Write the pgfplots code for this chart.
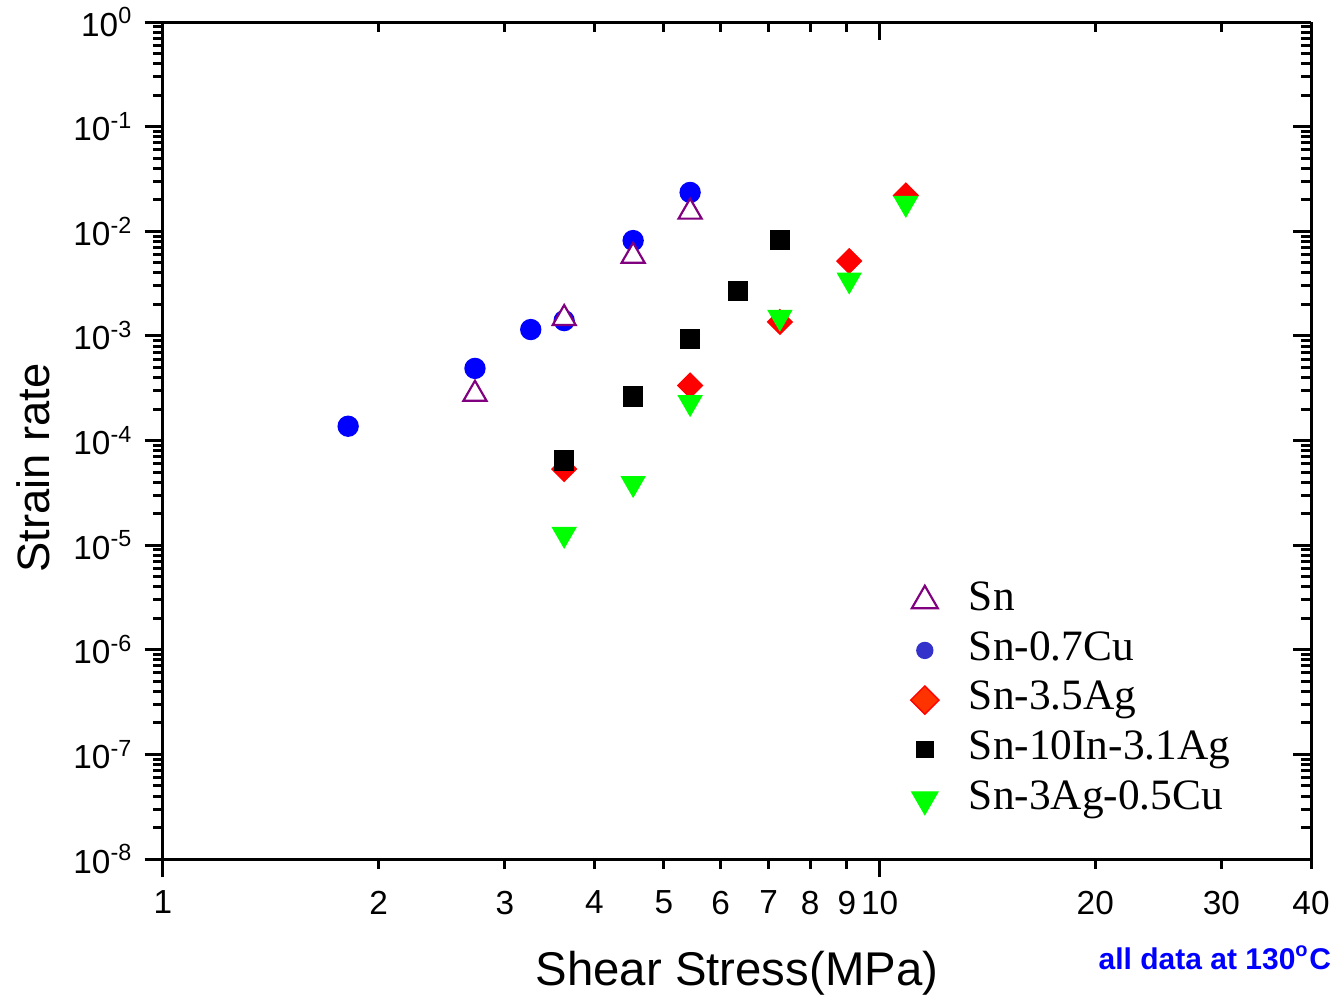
\documentclass[border=0pt]{standalone}
\usepackage{pgfplots}
\pgfplotsset{compat=1.18}
\usepackage{fontspec}
\setmainfont{Liberation Sans}
\newfontfamily\timesfont{Liberation Serif}
\definecolor{snpurple}{RGB}{128,0,128}
\definecolor{cublue}{RGB}{0,0,255}
\definecolor{legblue}{RGB}{51,51,204}
\definecolor{agred}{RGB}{255,0,0}
\definecolor{legorange}{RGB}{255,51,0}
\definecolor{sacgreen}{RGB}{0,255,0}
\begin{document}
\begin{tikzpicture}
% main axis: bottom + left, labels, data
\begin{axis}[name=A, clip=false,
  xmode=log, ymode=log, xmin=1, xmax=40, ymin=1e-8, ymax=1,
  scale only axis, width=344.4pt, height=251.1pt,
  axis line style={line width=0.9pt, black},
  every tick/.style={black, line width=0.9pt},
  major tick length=5.5pt, minor tick length=3pt,
  axis x line*=bottom, axis y line*=left, tick align=outside,
  xtick={1,2,3,4,5,6,7,8,9,10,20,30,40},
  xticklabels={1,2,3,4,5,6,7,8,9,10,20,30,40},
  minor xtick={},
  xtick style={draw=none},
  ytick={1e-8,1e-7,1e-6,1e-5,1e-4,1e-3,1e-2,1e-1,1},
  yticklabels={10\textsuperscript{-8},10\textsuperscript{-7},10\textsuperscript{-6},10\textsuperscript{-5},10\textsuperscript{-4},10\textsuperscript{-3},10\textsuperscript{-2},10\textsuperscript{-1},10\textsuperscript{0}},
  ticklabel style={font=\fontsize{10}{12}\selectfont},
  xticklabel style={yshift=-0.5pt},
  xlabel={Shear Stress(MPa)},
  ylabel={Strain rate},
  xlabel style={font=\fontsize{14.2}{17}\selectfont, at={(axis description cs:0.5,-0.136)}, anchor=center},
  ylabel style={font=\fontsize{13.6}{16}\selectfont, at={(axis description cs:-0.113,0.467)}, anchor=center},
  legend style={at={(axis description cs:0.642,0.347)}, anchor=north west,
    draw=none, fill=none, font=\timesfont\fontsize{13}{15}\selectfont,
    row sep=0pt, column sep=7.5pt, nodes={inner sep=1.5pt, text height=8.9pt, text depth=3pt}},
  legend cell align=left,
]
% Sn-0.7Cu
\addplot[forget plot, only marks, mark=*, mark size=3pt, color=cublue] coordinates {
(1.813,1.37e-4) (2.725,4.89e-4) (3.26,1.15e-3) (3.63,1.40e-3) (4.53,8.15e-3) (5.44,2.35e-2)};
% Sn
\addplot[forget plot, only marks, mark=triangle*, mark size=4pt, mark options={draw=snpurple, fill=white, line width=0.65pt}] coordinates {
(2.725,2.78e-4) (3.63,1.47e-3) (4.53,5.79e-3) (5.44,1.53e-2)};
% Sn-3.5Ag
\addplot[forget plot, only marks, mark=square*, mark size=2.6pt, mark options={rotate=45, draw=agred, fill=agred}] coordinates {
(3.63,5.33e-5) (5.44,3.36e-4) (7.26,1.36e-3) (9.07,5.19e-3) (10.88,2.2e-2)};
% Sn-10In-3.1Ag
\addplot[forget plot, only marks, mark=square*, mark size=2.85pt, mark options={draw=black, fill=black}] coordinates {
(3.63,6.43e-5) (4.53,2.63e-4) (5.44,9.36e-4) (6.34,2.68e-3) (7.26,8.3e-3)};
% Sn-3Ag-0.5Cu
\addplot[forget plot, only marks, mark=triangle*, mark size=4pt, mark options={rotate=180, draw=sacgreen, fill=sacgreen}] coordinates {
(3.63,1.27e-5) (4.53,3.89e-5) (5.44,2.31e-4) (7.26,1.51e-3) (9.07,3.43e-3) (10.88,1.85e-2)};
% legend
\addlegendimage{only marks, mark=triangle*, mark size=4.5pt, mark options={draw=snpurple, fill=white, line width=0.65pt}}
\addlegendentry{Sn}
\addlegendimage{only marks, mark=*, mark size=2.4pt, mark options={draw=legblue, fill=legblue}}
\addlegendentry{Sn-0.7Cu}
\addlegendimage{only marks, mark=square*, mark size=3pt, mark options={rotate=45, draw=agred, fill=legorange}}
\addlegendentry{Sn-3.5Ag}
\addlegendimage{only marks, mark=square*, mark size=2.4pt, mark options={draw=black, fill=black}}
\addlegendentry{Sn-10In-3.1Ag}
\addlegendimage{only marks, mark=triangle*, mark size=4.5pt, mark options={rotate=180, draw=sacgreen, fill=sacgreen}}
\addlegendentry{Sn-3Ag-0.5Cu}
\node[anchor=east, inner sep=0pt, text=cublue, font=\bfseries\fontsize{9}{11}\selectfont] at (axis description cs:1.018,-0.118) {all data at 130\textsuperscript{o}C};
\end{axis}
% bottom x ticks
\begin{axis}[
  xmode=log, ymode=log, xmin=1, xmax=40, ymin=1e-8, ymax=1,
  scale only axis, width=344.4pt, height=251.1pt,
  axis line style={line width=0.9pt, black},
  every tick/.style={black, line width=0.9pt},
  major tick length=5.5pt, minor tick length=3pt,
  axis x line*=bottom, axis y line=none, tick align=outside,
  xtick={1,10}, minor xtick={2,3,4,5,6,7,8,9,20,30,40}, xticklabels={}]
\end{axis}
% top and right, inward ticks
\begin{axis}[
  xmode=log, ymode=log, xmin=1, xmax=40, ymin=1e-8, ymax=1,
  scale only axis, width=344.4pt, height=251.1pt,
  axis line style={line width=0.9pt, black},
  every tick/.style={black, line width=0.9pt},
  major tick length=5.5pt, minor tick length=3pt,
  axis x line*=top, axis y line*=right, tick align=inside,
  xtick={1,10}, minor xtick={2,3,4,5,6,7,8,9,20,30,40}, xticklabels={},
  ytick={1e-8,1e-7,1e-6,1e-5,1e-4,1e-3,1e-2,1e-1,1}, yticklabels={}]
\end{axis}
\pgfresetboundingbox
\path (A.south west) ++(-48.9pt,-40.5pt) rectangle ++(401.1pt,298.2pt);
\end{tikzpicture}
\end{document}
